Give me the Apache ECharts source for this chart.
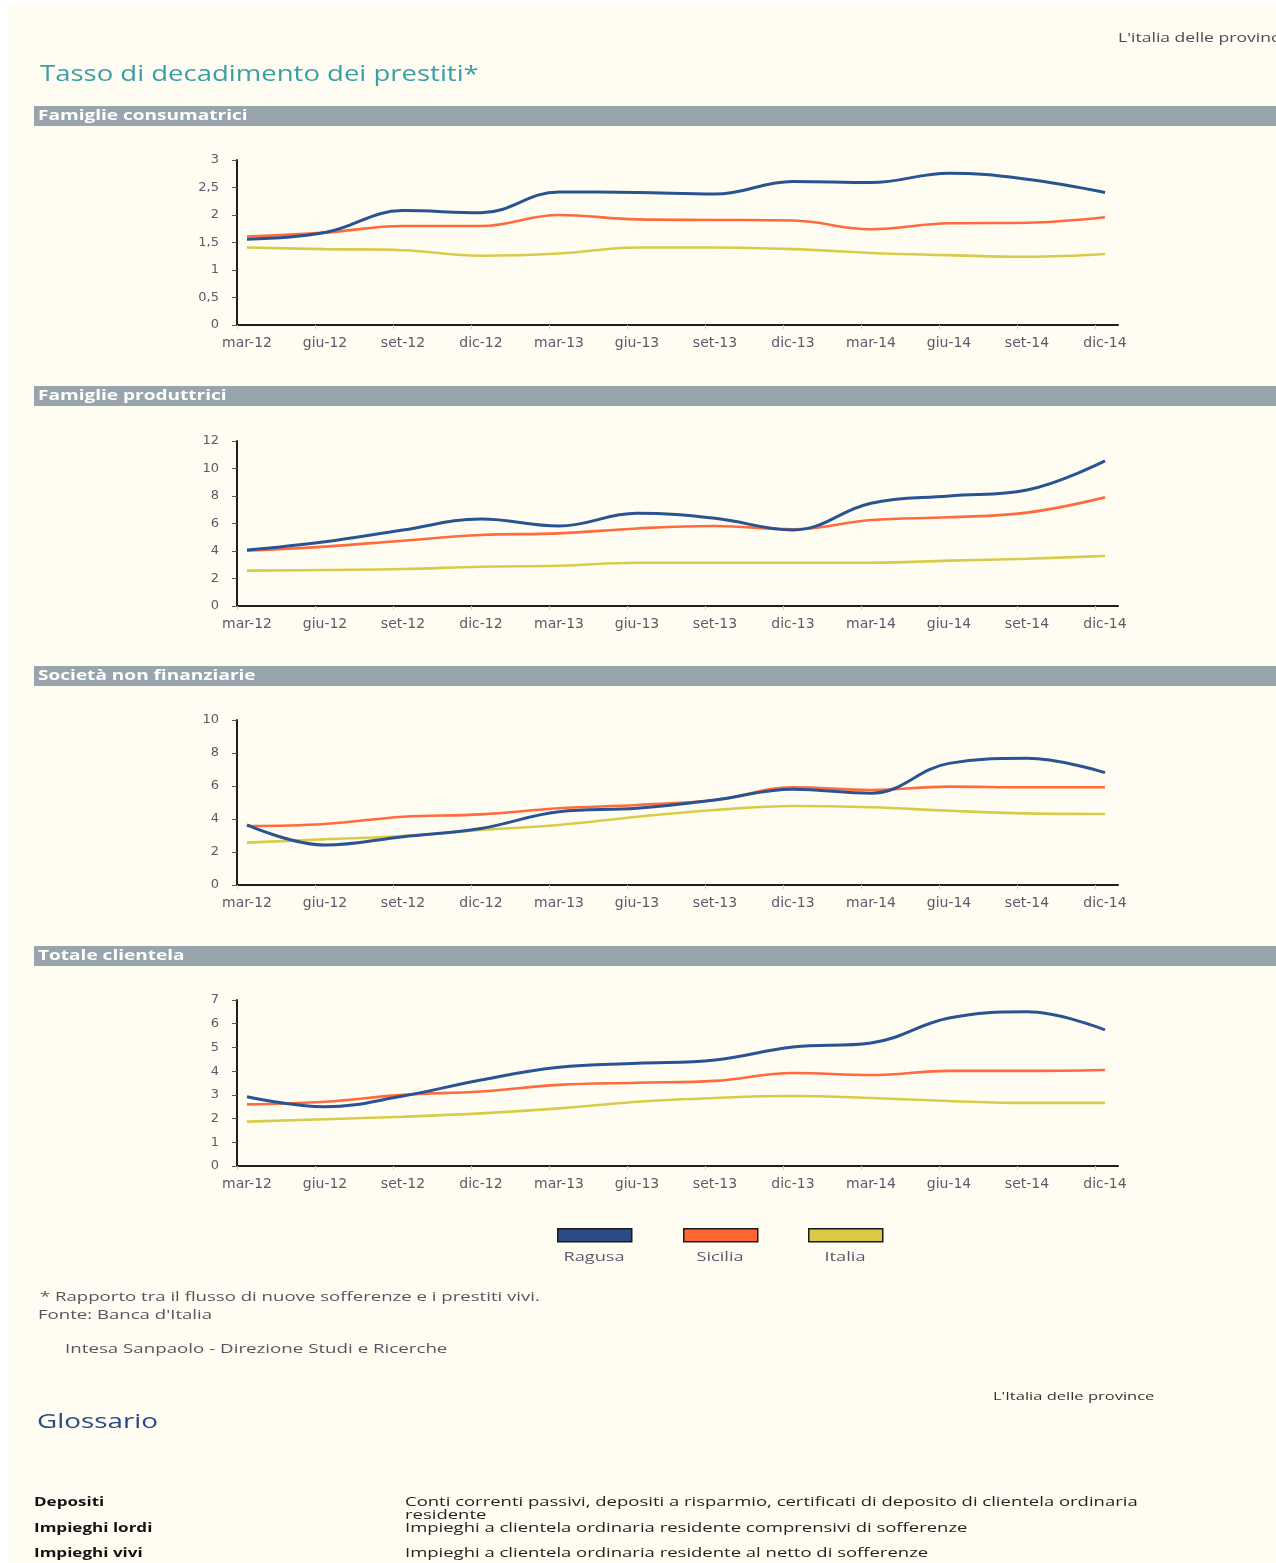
<!DOCTYPE html>
<html>
<head>
<meta charset="utf-8">
<script src="https://cdn.jsdelivr.net/npm/echarts@6/dist/echarts.min.js"></script>
<style>
html,body{margin:0;padding:0;background:#ffffff;}
#chart{width:1276px;height:1563px;}
</style>
</head>
<body>
<div id="chart"></div>
<script>
var categories = ['mar-12','giu-12','set-12','dic-12','mar-13','giu-13','set-13','dic-13','mar-14','giu-14','set-14','dic-14'];
var seriesNames = ['Ragusa','Sicilia','Italia'];
var panelTitles = ['Famiglie consumatrici','Famiglie produttrici','Società non finanziarie','Totale clientela'];

// Famiglie consumatrici
var fcRagusa  = [1.56,1.68,2.08,2.04,2.42,2.41,2.38,2.61,2.59,2.76,2.65,2.41];
var fcSicilia = [1.61,1.68,1.80,1.80,2.00,1.92,1.91,1.90,1.74,1.85,1.86,1.96];
var fcItalia  = [1.41,1.38,1.36,1.26,1.30,1.41,1.41,1.38,1.31,1.27,1.24,1.29];
// Famiglie produttrici
var fpRagusa  = [4.07,4.68,5.53,6.33,5.82,6.74,6.38,5.53,7.47,8.00,8.44,10.55];
var fpSicilia = [4.02,4.32,4.75,5.16,5.28,5.64,5.82,5.58,6.25,6.45,6.79,7.90];
var fpItalia  = [2.57,2.62,2.69,2.86,2.93,3.15,3.15,3.15,3.15,3.30,3.44,3.64];
// Società non finanziarie
var snRagusa  = [3.64,2.42,2.93,3.43,4.44,4.65,5.15,5.80,5.56,7.37,7.68,6.81];
var snSicilia = [3.58,3.70,4.14,4.28,4.65,4.85,5.15,5.92,5.76,5.96,5.92,5.92];
var snItalia  = [2.57,2.77,2.97,3.33,3.64,4.14,4.55,4.79,4.71,4.50,4.34,4.30];
// Totale clientela
var tcRagusa  = [2.92,2.50,2.95,3.63,4.16,4.33,4.47,5.02,5.19,6.24,6.50,5.74];
var tcSicilia = [2.60,2.71,3.00,3.14,3.42,3.51,3.59,3.92,3.84,4.01,4.01,4.05];
var tcItalia  = [1.87,1.97,2.08,2.22,2.43,2.71,2.87,2.95,2.87,2.74,2.66,2.66];

var yMax = [3, 12, 10, 7];
var yInterval = [0.5, 2, 2, 1];

var panels = [
  [fcRagusa, fcSicilia, fcItalia],
  [fpRagusa, fpSicilia, fpItalia],
  [snRagusa, snSicilia, snItalia],
  [tcRagusa, tcSicilia, tcItalia]
];

var colors = ['#2a5393', '#ff6b3d', '#d9cb4a'];
var legendColors = ['#2b4a86', '#ff6633', '#dcc845'];
var lineWidths = [3, 2.6, 2.6];

var gridTops = [160, 441, 720, 1000];
var gridHeights = [165, 165, 165, 166];
var headerTops = [106, 386, 666, 946];

var FONT = '"Open Sans", "Noto Sans", sans-serif';
var AXFONT = '"DejaVu Sans", sans-serif';

var xMin = -10/78, xMax = 11 + 13/78;
var catIdx = categories.map(function(c,i){return i;});
var tickVals = [];
for (var k = 0; k < 12; k++) tickVals.push(xMin + k);

var grids = [], xAxes = [], yAxes = [], series = [], graphics = [];

function txt(x, y, text, font, fill, sx, extra) {
  var st = {text:text, fill:fill, font:font, align:'left', verticalAlign:'middle'};
  if (extra) for (var k in extra) st[k] = extra[k];
  return {type:'text', x:x, y:y, scaleX:sx, scaleY:1, style:st, z:10};
}

// page background
graphics.push({type:'rect', left:8, top:6, shape:{width:1268, height:1557}, style:{fill:'#fffdf1'}, z:-10});

panels.forEach(function(p, gi){
  grids.push({left:237, right:158, top:gridTops[gi], height:gridHeights[gi], containLabel:false});
  xAxes.push({
    type:'value', gridIndex:gi, min:xMin, max:xMax,
    axisLine:{show:true, onZero:false, lineStyle:{color:'#1e1e1e', width:2}},
    axisTick:{show:true, customValues:tickVals, length:4, inside:false, lineStyle:{color:'#cfcfcf', width:1}},
    axisLabel:{show:true, customValues:catIdx, margin:11, color:'#5a5a6a', fontSize:14, fontFamily:AXFONT,
      formatter:function(v){ return categories[Math.round(v)] || ''; }},
    splitLine:{show:false}
  });
  yAxes.push({
    type:'value', gridIndex:gi, min:0, max:yMax[gi], interval:yInterval[gi],
    axisLine:{show:true, onZero:false, lineStyle:{color:'#1e1e1e', width:2}},
    axisTick:{show:true, length:5, inside:false, lineStyle:{color:'#555', width:1}},
    axisLabel:{margin:18, color:'#5a5a6a', fontSize:13, fontFamily:AXFONT,
      formatter:function(v){ return String(v).replace('.', ','); }},
    splitLine:{show:false}
  });
  p.forEach(function(arr, si){
    series.push({
      name:seriesNames[si], type:'line', xAxisIndex:gi, yAxisIndex:gi,
      data: arr.map(function(v,i){return [catIdx[i], v];}),
      smooth:0.4, showSymbol:false, symbol:'none',
      lineStyle:{color:colors[si], width:lineWidths[si]},
      itemStyle:{color:legendColors[si]},
      z: 3 - si
    });
  });
  graphics.push({type:'rect', left:34, top:headerTops[gi], shape:{width:1242, height:20}, style:{fill:'#99a5ad'}, z:-5});
  graphics.push(txt(38, headerTops[gi]+10, panelTitles[gi], 'bold 14px ' + FONT, '#ffffff', 1.36));
});

// titles and texts
graphics.push(txt(40, 75, 'Tasso di decadimento dei prestiti*', '21px ' + FONT, '#3a9ea6', 1.31));
graphics.push(txt(1118, 38, "L'italia delle province", '13px ' + FONT, '#4a4a5a', 1.35));

// legend labels below boxes
var legendLefts = [557, 683, 808];
seriesNames.forEach(function(n, i){
  graphics.push(txt(legendLefts[i] + 37, 1257, n, '13px ' + FONT, '#5a5a6a', 1.4, {align:'center'}));
});

// footnotes
graphics.push(txt(40, 1297, '* Rapporto tra il flusso di nuove sofferenze e i prestiti vivi.', '13px ' + FONT, '#555560', 1.43));
graphics.push(txt(38, 1315, "Fonte: Banca d'Italia", '13px ' + FONT, '#555560', 1.43));
graphics.push(txt(65, 1349, 'Intesa Sanpaolo - Direzione Studi e Ricerche', '13px ' + FONT, '#555560', 1.44));

graphics.push(txt(993, 1397, "L'Italia delle province", '11px ' + FONT, '#333333', 1.5));
graphics.push(txt(37, 1422, 'Glossario', '20px ' + FONT, '#2a4a86', 1.39));

var glossTerms = ['Depositi','Impieghi lordi','Impieghi vivi'];
var glossDefs = ['Conti correnti passivi, depositi a risparmio, certificati di deposito di clientela ordinaria',
  'Impieghi a clientela ordinaria residente comprensivi di sofferenze',
  'Impieghi a clientela ordinaria residente al netto di sofferenze'];
var glossYs = [1503, 1529, 1554];
glossTerms.forEach(function(t, i){
  graphics.push(txt(34, glossYs[i], t, 'bold 12px ' + FONT, '#111111', 1.42));
  graphics.push(txt(405, glossYs[i], glossDefs[i], '12px ' + FONT, '#222222', 1.54));
});
graphics.push(txt(405, 1516, 'residente', '12px ' + FONT, '#222222', 1.54));

var legends = seriesNames.map(function(n, i){
  return {
    data:[n], left:legendLefts[i], top:1228, orient:'horizontal',
    icon:'rect', itemWidth:74, itemHeight:13, padding:0,
    itemStyle:{borderColor:'#1a1a1a', borderWidth:1.5},
    formatter:function(){return '';}, selectedMode:false,
    textStyle:{fontSize:1}
  };
});

var chart = echarts.init(document.getElementById('chart'), null, {renderer:'canvas'});
chart.setOption({
  backgroundColor:'#ffffff',
  animation:false,
  textStyle:{fontFamily:FONT},
  grid:grids, xAxis:xAxes, yAxis:yAxes, series:series,
  legend:legends,
  graphic:{elements:graphics}
});
</script>
</body>
</html>
